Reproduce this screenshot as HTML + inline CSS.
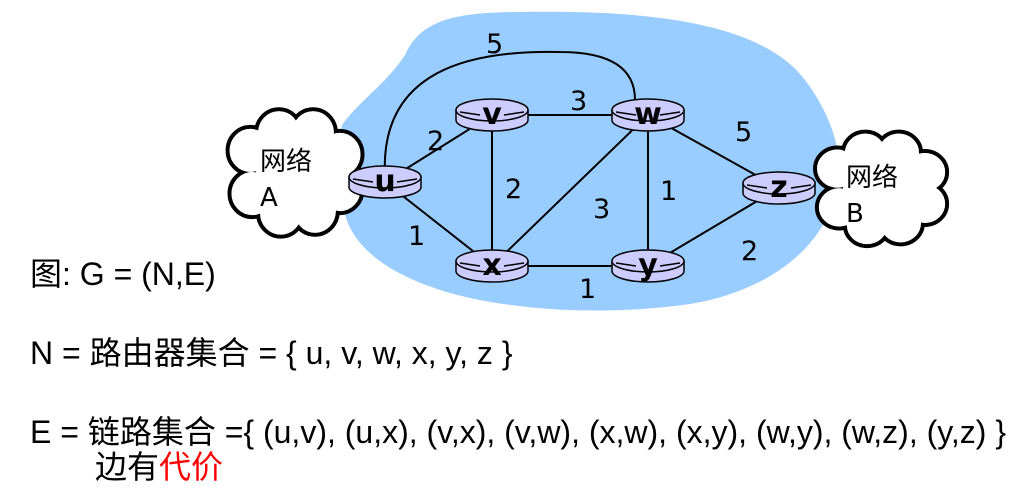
<!DOCTYPE html>
<html><head><meta charset="utf-8"><style>
body{margin:0;background:#fff;width:1032px;height:488px;overflow:hidden;position:relative;font-family:"Liberation Sans","Noto Sans CJK SC",sans-serif}
.t{position:absolute;font-size:32px;color:#000;white-space:nowrap;line-height:1}
</style></head><body>
<svg id="g" width="1032" height="488" style="position:absolute;left:0;top:0">
<path fill="#99ccff" d="M342,125 C360,100 385,85 405,55 C420,22 450,12 520,12 C640,10 760,20 805,80 C835,120 845,160 835,195 C822,250 765,292 690,304 C620,314 540,313 470,298 C400,282 352,252 344,210 C338,180 338,150 342,125 Z"/>
<g id="clouds"></g>
<g id="edges"></g>
<g id="nodes"></g>
</svg>
<div class="t" style="left:30px;top:258px">图: G = (N,E)</div>
<div class="t" style="left:30px;top:337px">N = 路由器集合 = { u, v, w, x, y, z }</div>
<div class="t" style="left:30px;top:416px">E = 链路集合 ={ (u,v), (u,x), (v,x), (v,w), (x,w), (x,y), (w,y), (w,z), (y,z) }</div>
<div class="t" style="left:95px;top:451px">边有<span style="color:#ff0000">代价</span></div>
<script>
const nodeNames=['u','v','w','x','y','z'];
const nodeX=[385,492,648,492,648,779];
const nodeY=[182,115,115,266,266,188];
const edgeFrom=['u','u','v','v','x','x','w','w','y'];
const edgeTo=['v','x','x','w','w','y','y','z','z'];
const edgeCost=[2,1,2,3,3,1,1,5,2];
const labelPos2=[[430,140],[411,235],[508,188],[573,100],[596,208],[582,288],[663,190],[738,131],[744,250]];
const NS='http://www.w3.org/2000/svg';
function mk(t,a){const e=document.createElementNS(NS,t);for(const k in a)e.setAttribute(k,a[k]);return e;}
const P=n=>{const i=nodeNames.indexOf(n);return [nodeX[i],nodeY[i]];};
const cg=document.getElementById('clouds');
function cloud(cx,cy,sx,sy,label,sub,name){
 const g=mk('g',{});
 
 
 const bumps=[[-48,-22,24],[-18,-40,24],[18,-40,24],[46,-18,24],[46,18,24],[20,40,24],[-16,42,24],[-46,22,24],[0,0,44]];
 bumps.forEach(b=>g.appendChild(mk('ellipse',{cx:cx+b[0]*sx,cy:cy+b[1]*sy,rx:b[2]*sx,ry:b[2]*sy,fill:'#fff',stroke:'#000','stroke-width':4})));
 bumps.forEach(b=>g.appendChild(mk('ellipse',{cx:cx+b[0]*sx,cy:cy+b[1]*sy,rx:b[2]*sx-2,ry:b[2]*sy-2,fill:'#fff'})));
 const t1=mk('text',{x:cx-36,y:cy-2,'font-size':26,'font-family':'"Noto Sans CJK SC",sans-serif'});t1.textContent=label;g.appendChild(t1);
 const t2=mk('text',{x:cx-36,y:cy+34,'font-size':26,'font-family':'"DejaVu Sans",sans-serif'});t2.textContent=sub;g.appendChild(t2);
 cg.appendChild(g);
}
cloud(296,172,0.95,0.98,'网络','A','cloud-network-a');
cloud(882,188,0.93,0.88,'网络','B','cloud-network-b');
const eg=document.getElementById('edges');
const arc=mk('path',{d:'M385,175 C380,70 470,50 560,52 C620,52 635,75 635,100',fill:'none',stroke:'#000','stroke-width':2});


eg.appendChild(arc);
const l5=mk('text',{x:486,y:53,'font-size':27,'font-family':'"DejaVu Sans",sans-serif'});l5.textContent='5';


eg.appendChild(l5);
edgeFrom.forEach((f,i)=>{
 const a=P(f),b=P(edgeTo[i]);
 const l=mk('line',{x1:a[0],y1:a[1],x2:b[0],y2:b[1],stroke:'#000','stroke-width':2});
 
 
 eg.appendChild(l);
 const t=mk('text',{x:labelPos2[i][0]-3,y:labelPos2[i][1]+10,'font-size':27,'font-family':'"DejaVu Sans",sans-serif'});
 t.textContent=edgeCost[i];
 
 
 eg.appendChild(t);
});
const ng=document.getElementById('nodes');
nodeNames.forEach((n,i)=>{
 const x=nodeX[i],y=nodeY[i]-5;
 const g=mk('g',{});
 
 
 g.appendChild(mk('path',{d:`M${x-36},${y} L${x-36},${y+10} A36,11 0 0 0 ${x+36},${y+10} L${x+36},${y} Z`,fill:'#ccccff',stroke:'#000','stroke-width':1.5}));
 g.appendChild(mk('ellipse',{cx:x,cy:y,rx:36,ry:11,fill:'#ccccff',stroke:'#000','stroke-width':1.5}));
 g.appendChild(mk('path',{d:`M${x-32},${y+2} L${x-12},${y+5} M${x+12},${y+5} L${x+32},${y+2}`,stroke:'#000','stroke-width':1.5,fill:'none'}));
 const t=mk('text',{x:x,y:y+14,'text-anchor':'middle','font-size':30,'font-weight':'bold','font-family':'"DejaVu Sans",sans-serif'});
 t.textContent=n;g.appendChild(t);
 ng.appendChild(g);
});
</script>
</body></html>
